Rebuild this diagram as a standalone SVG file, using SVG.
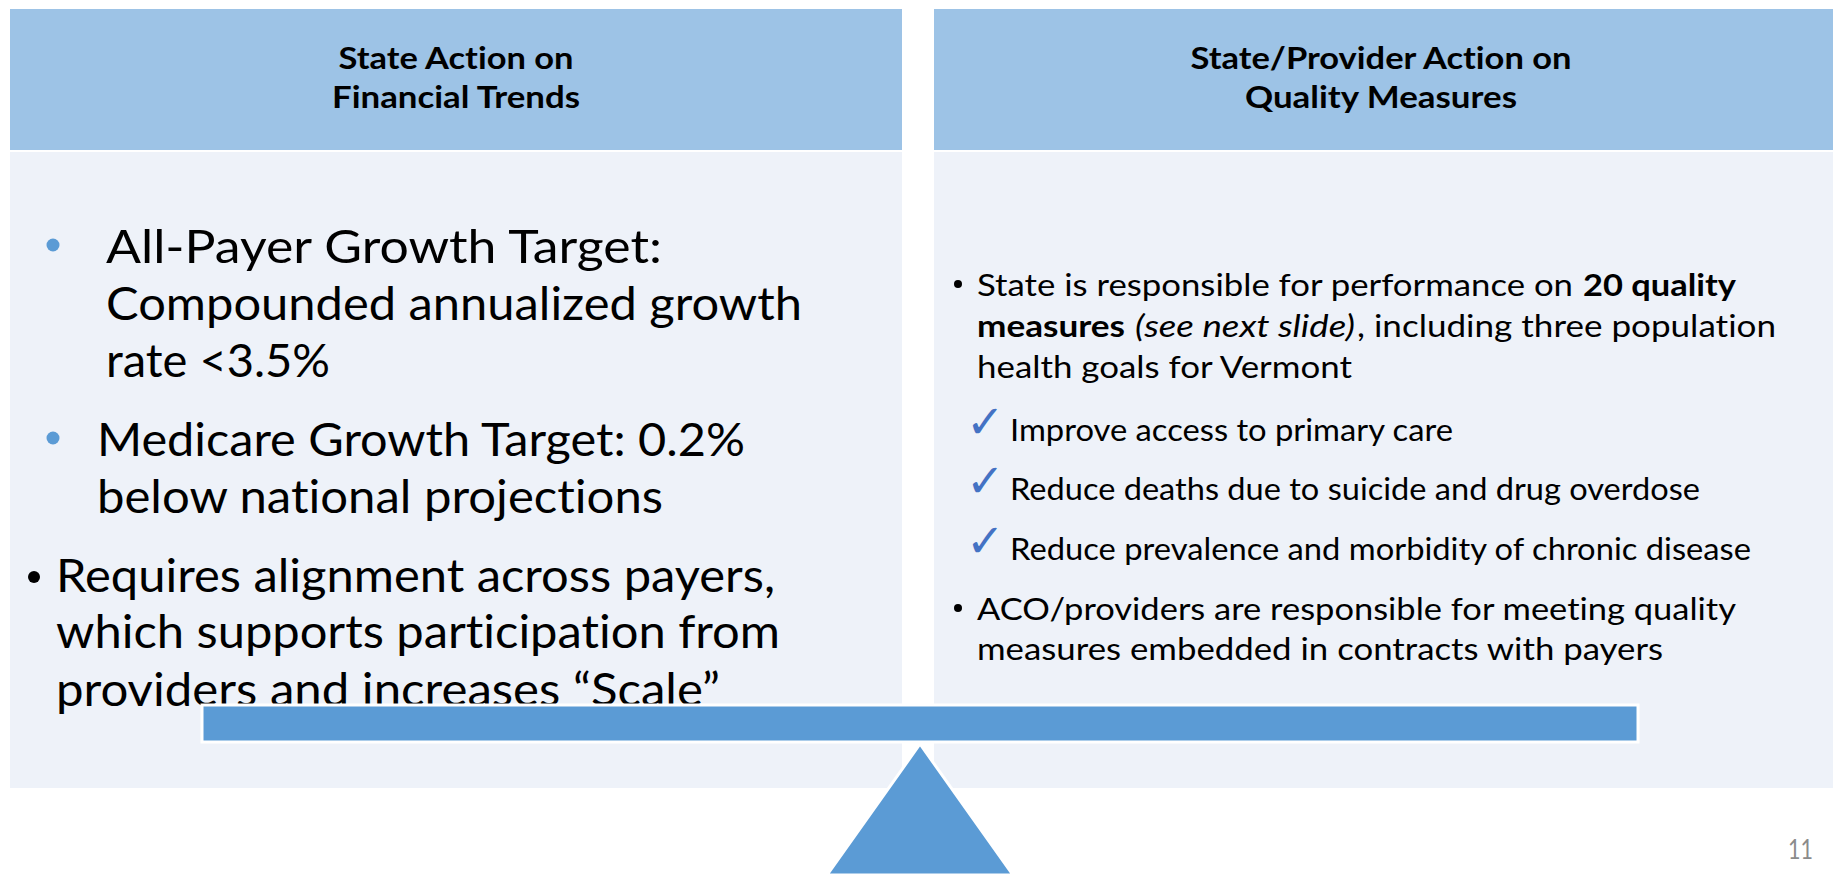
<svg xmlns="http://www.w3.org/2000/svg" width="1833" height="875" viewBox="0 0 1833 875">
  <defs>
    <style>
      text { font-family: Lato, "Liberation Sans", sans-serif; fill: #000; font-variant-ligatures: none; }
      .hdr { fill: #9DC3E6; }
      .body { fill: #EEF2F9; }
      .ht { font-size: 31px; font-weight: 700; text-anchor: middle; }
      .big { font-size: 46px; }
      .sm { font-size: 31px; }
      .b { font-weight: 700; }
      .i { font-style: italic; }
      .chk { font-family: "DejaVu Sans", sans-serif; font-size: 46px; fill: #4472C4; }
      .blue { fill: #5B9BD5; }
      .shape { fill: #5B9BD5; stroke: #FFFFFF; stroke-width: 3; }
      .pg { font-size: 26px; fill: #8B8B8B; }
    </style>
  </defs>
  <rect x="0" y="0" width="1833" height="875" fill="#FFFFFF"/>

  <g id="left-panel">
    <rect class="hdr" x="10" y="9" width="892" height="141"/>
    <rect class="body" x="10" y="152" width="892" height="636"/>
    <text class="ht" x="456" y="69" textLength="235" lengthAdjust="spacingAndGlyphs">State Action on</text>
    <text class="ht" x="456" y="108" textLength="248" lengthAdjust="spacingAndGlyphs">Financial Trends</text>
    <circle class="blue" cx="53" cy="245" r="6.5"/>
    <text class="big" x="106" y="263" textLength="556" lengthAdjust="spacingAndGlyphs">All-Payer Growth Target:</text>
    <text class="big" x="106" y="320" textLength="696" lengthAdjust="spacingAndGlyphs">Compounded annualized growth</text>
    <text class="big" x="106" y="377" textLength="224" lengthAdjust="spacingAndGlyphs">rate &lt;3.5%</text>
    <circle class="blue" cx="53" cy="438" r="6.5"/>
    <text class="big" x="97" y="456" textLength="648" lengthAdjust="spacingAndGlyphs">Medicare Growth Target: 0.2%</text>
    <text class="big" x="97" y="513" textLength="566" lengthAdjust="spacingAndGlyphs">below national projections</text>
    <circle cx="34" cy="577" r="6" fill="#000"/>
    <text class="big" x="56" y="592" textLength="719" lengthAdjust="spacingAndGlyphs">Requires alignment across payers,</text>
    <text class="big" x="56" y="648" textLength="724" lengthAdjust="spacingAndGlyphs">which supports participation from</text>
    <text class="big" x="56" y="706" textLength="664" lengthAdjust="spacingAndGlyphs">providers and increases “Scale”</text>
  </g>

  <g id="right-panel">
    <rect class="hdr" x="934" y="9" width="899" height="141"/>
    <rect class="body" x="934" y="152" width="899" height="636"/>
    <text class="ht" x="1381" y="69" textLength="381" lengthAdjust="spacingAndGlyphs">State/Provider Action on</text>
    <text class="ht" x="1381" y="108" textLength="272" lengthAdjust="spacingAndGlyphs">Quality Measures</text>
    <circle cx="958" cy="284" r="4" fill="#000"/>
    <text class="sm" x="977" y="296" textLength="596" lengthAdjust="spacingAndGlyphs">State is responsible for performance on</text>
    <text class="sm b" x="1583" y="296" textLength="153" lengthAdjust="spacingAndGlyphs">20 quality</text>
    <text class="sm b" x="977" y="337" textLength="148" lengthAdjust="spacingAndGlyphs">measures</text>
    <text class="sm i" x="1135" y="337" textLength="220" lengthAdjust="spacingAndGlyphs">(see next slide)</text>
    <text class="sm" x="1357" y="337" textLength="419" lengthAdjust="spacingAndGlyphs">, including three population</text>
    <text class="sm" x="977" y="378" textLength="375" lengthAdjust="spacingAndGlyphs">health goals for Vermont</text>
    <text class="chk" x="966" y="438">✓</text>
    <text class="sm" x="1010" y="441" textLength="443" lengthAdjust="spacingAndGlyphs">Improve access to primary care</text>
    <text class="chk" x="966" y="497">✓</text>
    <text class="sm" x="1010" y="500" textLength="690" lengthAdjust="spacingAndGlyphs">Reduce deaths due to suicide and drug overdose</text>
    <text class="chk" x="966" y="557">✓</text>
    <text class="sm" x="1010" y="560" textLength="741" lengthAdjust="spacingAndGlyphs">Reduce prevalence and morbidity of chronic disease</text>
    <circle cx="958" cy="608" r="4" fill="#000"/>
    <text class="sm" x="977" y="620" textLength="759" lengthAdjust="spacingAndGlyphs">ACO/providers are responsible for meeting quality</text>
    <text class="sm" x="977" y="660" textLength="686" lengthAdjust="spacingAndGlyphs">measures embedded in contracts with payers</text>
  </g>

  <g id="balance">
    <rect id="beam" class="shape" x="202" y="705" width="1436" height="37"/>
    <polygon id="fulcrum" class="shape" points="920,744 827,875 1013,875"/>
  </g>

  <text id="page-number" class="pg" x="1788" y="859" textLength="25" lengthAdjust="spacingAndGlyphs">11</text>
</svg>
